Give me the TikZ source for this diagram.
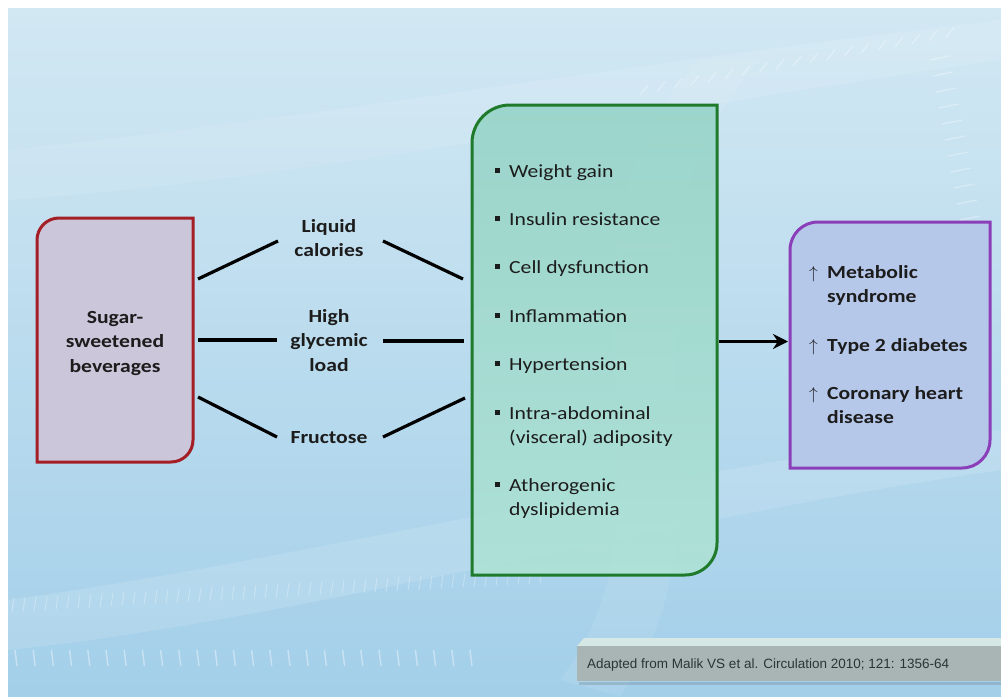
\documentclass[tikz,border=0pt]{standalone}
\usepackage{fontspec}
\setmainfont{Carlito}[FakeStretch=1.17]
\newfontfamily\citefont{Liberation Sans}
\usetikzlibrary{arrows.meta,calc}
\definecolor{bgtop}{HTML}{D2E8F3}
\definecolor{bgbot}{HTML}{A3CFE9}
\definecolor{ssbline}{HTML}{A41E26}
\definecolor{ssbfill}{HTML}{CBC6D9}
\definecolor{midline}{HTML}{1F7A2C}
\definecolor{midtop}{HTML}{98D4C8}
\definecolor{midbot}{HTML}{AEE2D6}
\definecolor{outline}{HTML}{8A3FB8}
\definecolor{outfill}{HTML}{B6C8EA}
\definecolor{txt}{HTML}{1C1C1C}
\definecolor{citefill}{HTML}{A9B5B4}
\definecolor{citetop}{HTML}{D5E8E6}
\definecolor{citetxt}{HTML}{2A3535}
\newcommand\bulbox{\makebox[14pt][l]{\rule[4pt]{5pt}{5pt}}}
\newcommand\upbox{\makebox[18pt][l]{$\uparrow$}}
\begin{document}
\begin{tikzpicture}[x=1pt,y=-1pt,
  boxline/.style={line width=3pt},
  lbl/.style={inner sep=0pt,anchor=base,text=txt,font=\fontsize{18.5}{24.5}\selectfont\bfseries},
  itm/.style={inner sep=0pt,anchor=base west,text=txt,font=\fontsize{18.5}{24.5}\selectfont},
  outc/.style={inner sep=0pt,anchor=base west,text=txt,font=\fontsize{18.5}{24.5}\selectfont\bfseries},
  conn/.style={line width=3.2pt,black},
  tick/.style={white,line width=1.4pt,opacity=0.4}]
\useasboundingbox (0,0) rectangle (1001,696);
\fill[white] (0,0) rectangle (1001,696);
\shade[top color=bgtop,bottom color=bgbot] (8,8) rectangle (1001,696);
% soft waves
\fill[white,opacity=0.12] (8,600) .. controls (300,560) and (650,470) .. (1001,430) -- (1001,470) .. controls (650,520) and (300,620) .. (8,650) -- cycle;
\fill[white,opacity=0.1] (8,150) .. controls (300,120) and (650,60) .. (1001,20) -- (1001,60) .. controls (650,110) and (300,180) .. (8,200) -- cycle;
\fill[white,opacity=0.08] (560,680) .. controls (700,500) and (520,250) .. (700,60) -- (760,60) .. controls (580,260) and (760,500) .. (620,696) -- cycle;
% ticks
\foreach \i in {0,...,25} \draw[tick] ({15+\i*18.2},650) -- ({17+\i*18.2},666);
\foreach \i in {0,...,48} \draw[tick,opacity=0.28,line width=1pt] ({12+\i*11},{612-\i*0.6}) -- ({14+\i*11},{598-\i*0.6});
\foreach \i in {0,...,18} \draw[tick,opacity=0.3] ({640+\i*17},{95-\i*3.2}) -- ({648+\i*17},{85-\i*3.2});
\foreach \i in {0,...,14} \draw[tick,opacity=0.3] ({930+\i*3},{60+\i*16}) -- ({950+\i*3},{56+\i*16});
% left box
\filldraw[boxline,fill=ssbfill,draw=ssbline] (37,462) -- (37,240) arc[start angle=180,end angle=270,radius=22] -- (193,218) -- (193,440) arc[start angle=0,end angle=90,radius=22] -- cycle;
\node[lbl] (ssb) at (115,323) {\begin{tabular}[t]{@{}c@{}}Sugar-\\sweetened\\beverages\end{tabular}};
% middle box
\path[top color=midtop,bottom color=midbot,opacity=0.92] (472,575) -- (472,143) arc[start angle=180,end angle=270,radius=38] -- (717,105) -- (717,543) arc[start angle=0,end angle=90,radius=32] -- cycle;
\draw[boxline,midline] (472,575) -- (472,143) arc[start angle=180,end angle=270,radius=38] -- (717,105) -- (717,543) arc[start angle=0,end angle=90,radius=32] -- cycle;
\node[itm] (m1) at (495,177) {\bulbox Weight gain};
\node[itm] (m2) at (495,225) {\bulbox Insulin resistance};
\node[itm] (m3) at (495,273) {\bulbox Cell dysfunction};
\node[itm] (m4) at (495,322) {\bulbox Inflammation};
\node[itm] (m5) at (495,370) {\bulbox Hypertension};
\node[itm] (m6) at (495,419) {\begin{tabular}[t]{@{}l@{}l@{}}\bulbox & Intra-abdominal\\ & (visceral) adiposity\end{tabular}};
\node[itm] (m7) at (495,491) {\begin{tabular}[t]{@{}l@{}l@{}}\bulbox & Atherogenic\\ & dyslipidemia\end{tabular}};
% right box
\filldraw[boxline,fill=outfill,draw=outline] (790,468) -- (790,250) arc[start angle=180,end angle=270,radius=28] -- (990,222) -- (990,440) arc[start angle=0,end angle=90,radius=28] -- cycle;
\node[outc] (o1) at (809,278) {\begin{tabular}[t]{@{}l@{}l@{}}\upbox & Metabolic\\ & syndrome\end{tabular}};
\node[outc] (o2) at (809,351) {\upbox Type 2 diabetes};
\node[outc] (o3) at (809,399) {\begin{tabular}[t]{@{}l@{}l@{}}\upbox & Coronary heart\\ & disease\end{tabular}};
% mediator labels
\node[lbl] (liq) at (329,232) {\begin{tabular}[t]{@{}c@{}}Liquid\\calories\end{tabular}};
\node[lbl] (gly) at (329,322) {\begin{tabular}[t]{@{}c@{}}High\\glycemic\\load\end{tabular}};
\node[lbl] (fru) at (329,443) {Fructose};
% connectors
\coordinate (a1) at (198,279); \coordinate (a2) at (278,241);
\coordinate (b1) at (383,241); \coordinate (b2) at (463,279);
\coordinate (c1) at (198,340); \coordinate (c2) at (277,340);
\coordinate (d1) at (383,341); \coordinate (d2) at (464,341);
\coordinate (e1) at (198,397); \coordinate (e2) at (277,437);
\coordinate (f1) at (383,437); \coordinate (f2) at (465,398);
\draw[conn] (a1) -- (a2);
\draw[conn] (b1) -- (b2);
\draw[conn] (c1) -- (c2);
\draw[conn] (d1) -- (d2);
\draw[conn] (e1) -- (e2);
\draw[conn] (f1) -- (f2);
\coordinate (g1) at (719,341.5); \coordinate (g2) at (788,341.5);
\draw[line width=3.2pt,-{Stealth[length=15pt,width=15pt]}] (g1) -- (g2);
% citation
\fill[black,opacity=0.12] (579,682) rectangle (1001,685);
\fill[citetop] (577,646) -- (584,638) -- (1001,638) -- (1001,646) -- cycle;
\fill[citefill] (577,646) rectangle (1001,681);
\node[inner sep=0pt,anchor=base west,text=citetxt,font=\citefont\fontsize{13.5}{16}\selectfont] (cite) at (587,668) {Adapted from Malik VS et al. Circulation 2010; 121: 1356-64};
\end{tikzpicture}
\end{document}
